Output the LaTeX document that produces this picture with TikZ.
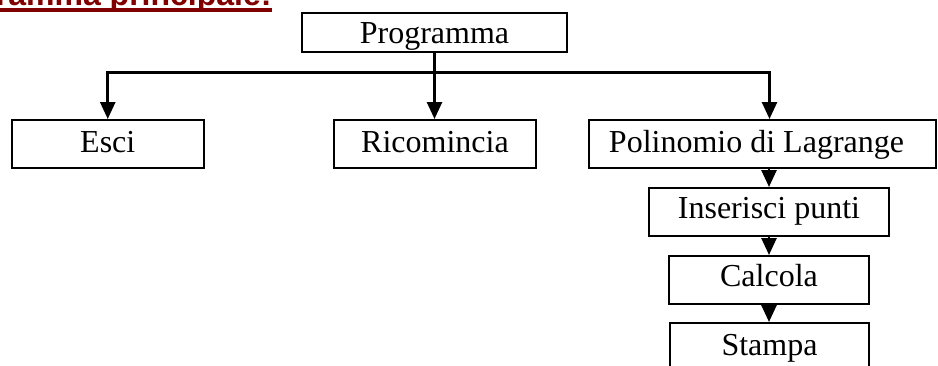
\documentclass[tikz,border=0pt]{standalone}
\usepackage{fontspec}
\setmainfont{Liberation Serif}
\newfontfamily\titlefont{Liberation Sans}
\usetikzlibrary{arrows.meta}
\definecolor{titlered}{HTML}{800000}
\begin{document}
\begin{tikzpicture}[x=0.5pt,y=-0.5pt,
  box/.style={draw,line width=1pt,rectangle,inner sep=0pt,
    font=\fontsize{16}{19}\selectfont,text height=12pt,text depth=4pt,
    minimum height=24pt},
  conn/.style={line width=1.3pt,line join=miter,-{Triangle[width=7.5pt,length=8.5pt]}},
  link/.style={line width=1.3pt}]
\useasboundingbox (0,0) rectangle (938,365);
\clip (0,0) rectangle (938,365);
% title (cut at the top)
\node[font=\titlefont\bfseries\fontsize{16}{19}\selectfont, text=titlered,
  anchor=base east, inner sep=0pt] (title) at (272,5.5) {Programma principale:};
\draw[titlered, line width=1.65pt] ([yshift=-2.25pt]title.base west) -- ([yshift=-2.25pt]title.base east);
% boxes
\node[box, minimum width=132.5pt, minimum height=19.5pt, text height=13pt, text depth=2pt] (prog) at (434.5,32.5) {Programma};
\node[box, minimum width=96.25pt] (esci) at (107.75,144) {Esci};
\node[box, minimum width=101pt] (ric) at (435,144) {Ricomincia};
\node[box, minimum width=173.5pt] (pol) at (762.5,144) {Polinomio di Lagrange\hspace*{6pt}};
\node[box, minimum width=120pt, text height=11.5pt, text depth=5pt] (ins) at (769,212) {Inserisci punti};
\node[box, minimum width=100pt, minimum height=23.75pt, text height=11.5pt, text depth=5pt] (calc) at (769,279.75) {Calcola};
\node[box, minimum width=99.5pt] (stampa) at (769.5,347) {Stampa};
% connectors
\coordinate (j) at (434.5,72.5);
\coordinate (jl) at (107.75,72.5);
\coordinate (jr) at (769.5,72.5);
\draw[link] (prog.south) -- (j);
\draw[conn] (j) -- (jl) -- (esci.north);
\draw[conn] (j) -- (jr) -- (jr |- pol.north);
\draw[conn] (j) -- (j |- ric.north);
\draw[conn] (ins.north |- pol.south) -- (ins.north);
\draw[conn] (ins.south) -- (calc.north);
\draw[conn] (calc.south) -- (calc.south |- stampa.north);
\end{tikzpicture}
\end{document}
